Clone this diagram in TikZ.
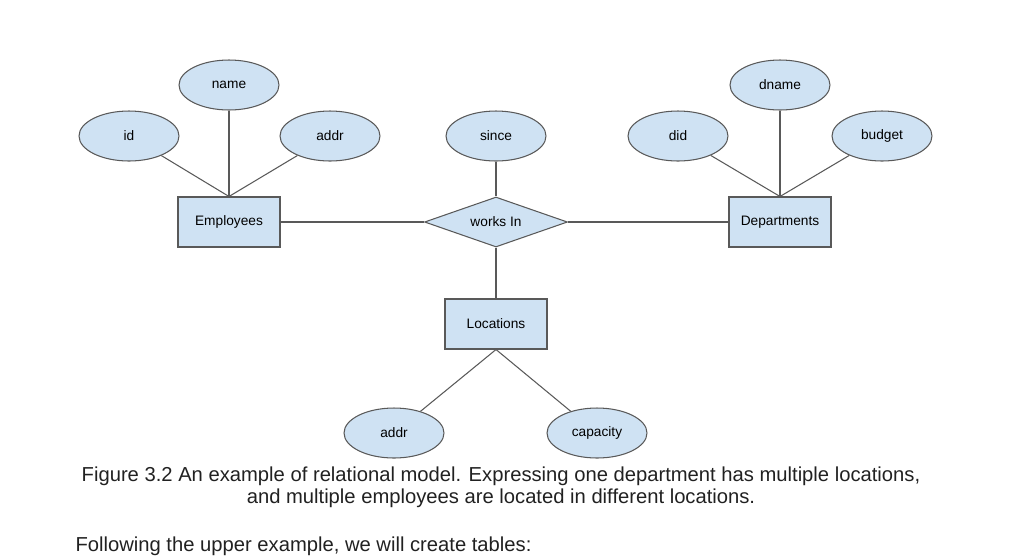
\documentclass[tikz,border=0pt]{standalone}
\usepackage{fontspec}
\setmainfont{Liberation Sans}
\usetikzlibrary{shapes.geometric}
\definecolor{eblue}{HTML}{CFE2F3}
\definecolor{egray}{HTML}{595959}
\tikzset{attr/.style = {draw=egray, fill=eblue, ellipse, inner sep=0,
                        minimum width=2cm, minimum height=1cm, font=\fontsize{7.8}{9}\selectfont}}
\tikzset{entity/.style = {draw=egray, fill=eblue, rectangle, inner sep=0,
                          minimum width=2.04cm, minimum height=1cm, font=\fontsize{7.8}{9}\selectfont}}
\tikzset{rel/.style = {draw=egray, fill=eblue, diamond, aspect=2.86, inner sep=0,
                       minimum width=2.86cm, minimum height=1cm, font=\fontsize{7.8}{9}\selectfont}}
\tikzset{link/.style = {draw=egray, line width=0.6pt}}

\begin{document}
\begin{tikzpicture}[x=0.02cm, y=-0.02cm, line width=0.6pt]
  \useasboundingbox (0, 0) rectangle (1023, 559);
  % entities and relationship
  \node [entity] (emp) at (229, 222) {Employees};
  \node [entity] (dept) at (780, 222) {Departments};
  \node [entity] (loc) at (496, 324) {Locations};
  \node [rel] (works) at (496, 222) {works In};

  % attributes
  \node [attr] (id) at (129, 136) {id};
  \node [attr] (name) at (229, 85) {name};
  \node [attr] (addr) at (330, 136) {addr};
  \node [attr] (since) at (496, 136) {since};
  \node [attr] (did) at (678, 136) {did};
  \node [attr] (dname) at (780, 85) {dname};
  \node [attr] (budget) at (882, 136) {budget};
  \node [attr] (laddr) at (394, 433) {addr};
  \node [attr] (cap) at (597, 433) {capacity};

  \foreach \a in {id, name, addr} \draw [link] (\a) -- (emp.north);
  \foreach \a in {did, dname, budget} \draw [link] (\a) -- (dept.north);
  \foreach \a in {laddr, cap} \draw [link] (loc.south) -- (\a);
  \draw [link] (emp) -- (works);
  \draw [link] (works) -- (dept);
  \draw [link] (since) -- (works);
  \draw [link] (works) -- (loc);

  % caption
  \node [align=center, text=black!87, font=\fontsize{11.5}{12.6}\selectfont] (caption) at (501, 487)
    {Figure 3.2 An example of relational model. Expressing one department has multiple locations,\\
     and multiple employees are located in different locations.};
  \node [anchor=base west, inner sep=0, text=black!87, font=\fontsize{11.5}{12.6}\selectfont] (follow) at (75, 551)
    {Following the upper example, we will create tables:};
\end{tikzpicture}
\end{document}
